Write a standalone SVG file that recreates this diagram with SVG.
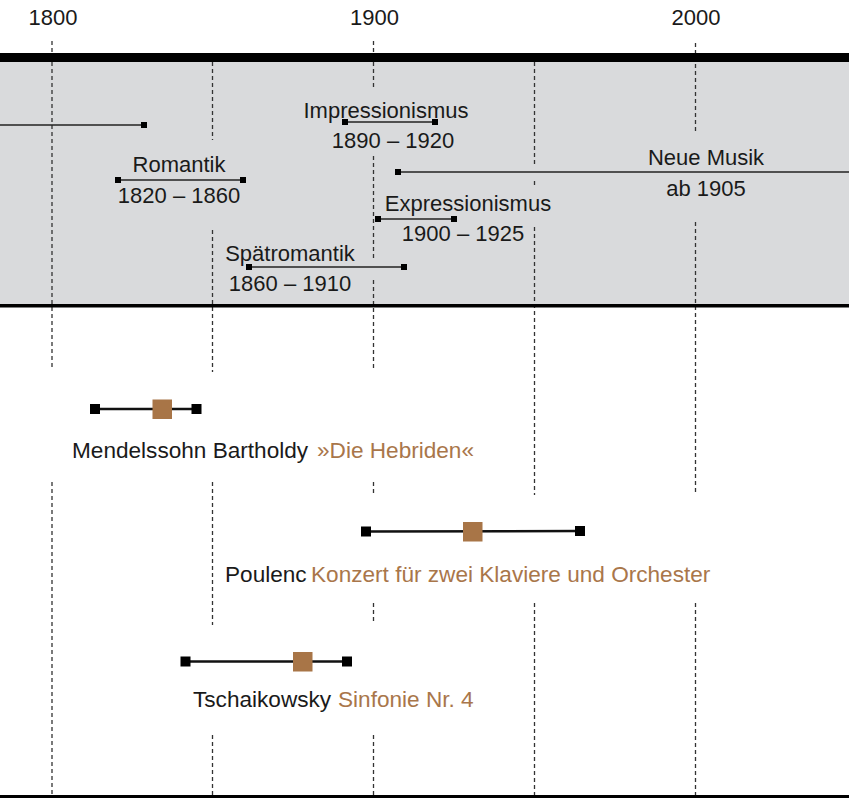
<svg xmlns="http://www.w3.org/2000/svg" width="849" height="798" viewBox="0 0 849 798">
  <style>
    text { font-family: "Liberation Sans", Arial, sans-serif; font-size: 22px; fill: #1a1a1a; }
    .mid { text-anchor: middle; }
    .comp { font-size: 22.6px; }
    .brown { fill: #a9764a; }
    .grid line { stroke: #333; stroke-width: 1.3; stroke-dasharray: 4 3; }
    .period { stroke: #222; stroke-width: 1.6; fill: none; }
    .pend { fill: #000; }
    .life { stroke: #111; stroke-width: 2.5; fill: none; }
    .lend { fill: #000; }
    .work { fill: #a87547; }
  </style>

  <rect x="0" y="62" width="849" height="243" fill="#d9dadc"/>

  <g id="gridlines" class="grid">
    <line x1="52" y1="41" x2="52" y2="370"/>
    <line x1="52" y1="482" x2="52" y2="795"/>

    <line x1="212.5" y1="62" x2="212.5" y2="140"/>
    <line x1="212.5" y1="230" x2="212.5" y2="372"/>
    <line x1="212.5" y1="482" x2="212.5" y2="625"/>
    <line x1="212.5" y1="735" x2="212.5" y2="795"/>

    <line x1="373.5" y1="41" x2="373.5" y2="90"/>
    <line x1="373.5" y1="156" x2="373.5" y2="260"/>
    <line x1="373.5" y1="280" x2="373.5" y2="370"/>
    <line x1="373.5" y1="482" x2="373.5" y2="495"/>
    <line x1="373.5" y1="603" x2="373.5" y2="623"/>
    <line x1="373.5" y1="735" x2="373.5" y2="795"/>

    <line x1="534.5" y1="62" x2="534.5" y2="165"/>
    <line x1="534.5" y1="181" x2="534.5" y2="187"/>
    <line x1="534.5" y1="227" x2="534.5" y2="495"/>
    <line x1="534.5" y1="603" x2="534.5" y2="795"/>

    <line x1="695.5" y1="43" x2="695.5" y2="132"/>
    <line x1="695.5" y1="222" x2="695.5" y2="495"/>
    <line x1="695.5" y1="603" x2="695.5" y2="795"/>
  </g>

  <g id="bars">
    <rect x="0" y="53" width="849" height="9" fill="#000"/>
    <rect x="0" y="304" width="849" height="3.5" fill="#000"/>
    <rect x="0" y="795" width="849" height="3" fill="#000"/>
  </g>

  <g id="axis-labels">
    <text class="mid" x="53" y="25">1800</text>
    <text class="mid" x="374.5" y="25">1900</text>
    <text class="mid" x="696" y="25">2000</text>
  </g>

  <g id="period-klassik">
    <line class="period" x1="0" y1="125" x2="144" y2="125"/>
    <rect class="pend" x="141" y="122" width="6" height="6"/>
  </g>

  <g id="period-impressionismus">
    <text class="mid" x="386" y="118">Impressionismus</text>
    <line class="period" x1="345" y1="122" x2="435" y2="122"/>
    <rect class="pend" x="342" y="119" width="6" height="6"/>
    <rect class="pend" x="432" y="119" width="6" height="6"/>
    <text class="mid" x="393" y="148">1890 – 1920</text>
  </g>

  <g id="period-romantik">
    <text class="mid" x="179" y="172">Romantik</text>
    <line class="period" x1="118" y1="180" x2="243" y2="180"/>
    <rect class="pend" x="115" y="177" width="6" height="6"/>
    <rect class="pend" x="240" y="177" width="6" height="6"/>
    <text class="mid" x="179" y="203">1820 – 1860</text>
  </g>

  <g id="period-neue-musik">
    <text class="mid" x="706" y="165">Neue Musik</text>
    <line class="period" x1="398" y1="172" x2="849" y2="172"/>
    <rect class="pend" x="395" y="169" width="6" height="6"/>
    <text class="mid" x="706" y="196">ab 1905</text>
  </g>

  <g id="period-expressionismus">
    <text class="mid" x="468" y="211">Expressionismus</text>
    <line class="period" x1="378" y1="219" x2="454" y2="219"/>
    <rect class="pend" x="375" y="216" width="6" height="6"/>
    <rect class="pend" x="451" y="216" width="6" height="6"/>
    <text class="mid" x="463" y="241">1900 – 1925</text>
  </g>

  <g id="period-spaetromantik">
    <text class="mid" x="290" y="261">Spätromantik</text>
    <line class="period" x1="249" y1="267" x2="404" y2="267"/>
    <rect class="pend" x="246" y="264" width="6" height="6"/>
    <rect class="pend" x="401" y="264" width="6" height="6"/>
    <text class="mid" x="290" y="291">1860 – 1910</text>
  </g>

  <g id="work-mendelssohn">
    <line class="life" x1="95" y1="409" x2="196.5" y2="409"/>
    <rect class="lend" x="90" y="404" width="10" height="10"/>
    <rect class="lend" x="191.5" y="404" width="10" height="10"/>
    <rect class="work" x="152.5" y="399.5" width="19.5" height="19.5"/>
    <text class="comp" x="72" y="458">Mendelssohn Bartholdy <tspan class="brown" x="317">»Die Hebriden«</tspan></text>
  </g>

  <g id="work-poulenc">
    <line class="life" x1="366" y1="531.5" x2="580" y2="531"/>
    <rect class="lend" x="361" y="526.5" width="10" height="10"/>
    <rect class="lend" x="575" y="526" width="10" height="10"/>
    <rect class="work" x="463" y="522" width="19.5" height="19.5"/>
    <text class="comp" x="225" y="582">Poulenc <tspan class="brown" x="311">Konzert für zwei Klaviere und Orchester</tspan></text>
  </g>

  <g id="work-tschaikowsky">
    <line class="life" x1="185.5" y1="661.5" x2="347" y2="661.5"/>
    <rect class="lend" x="180.5" y="656.5" width="10" height="10"/>
    <rect class="lend" x="342" y="656.5" width="10" height="10"/>
    <rect class="work" x="293" y="652" width="19.5" height="19.5"/>
    <text class="comp" x="193" y="707">Tschaikowsky <tspan class="brown" x="338">Sinfonie Nr. 4</tspan></text>
  </g>
</svg>
